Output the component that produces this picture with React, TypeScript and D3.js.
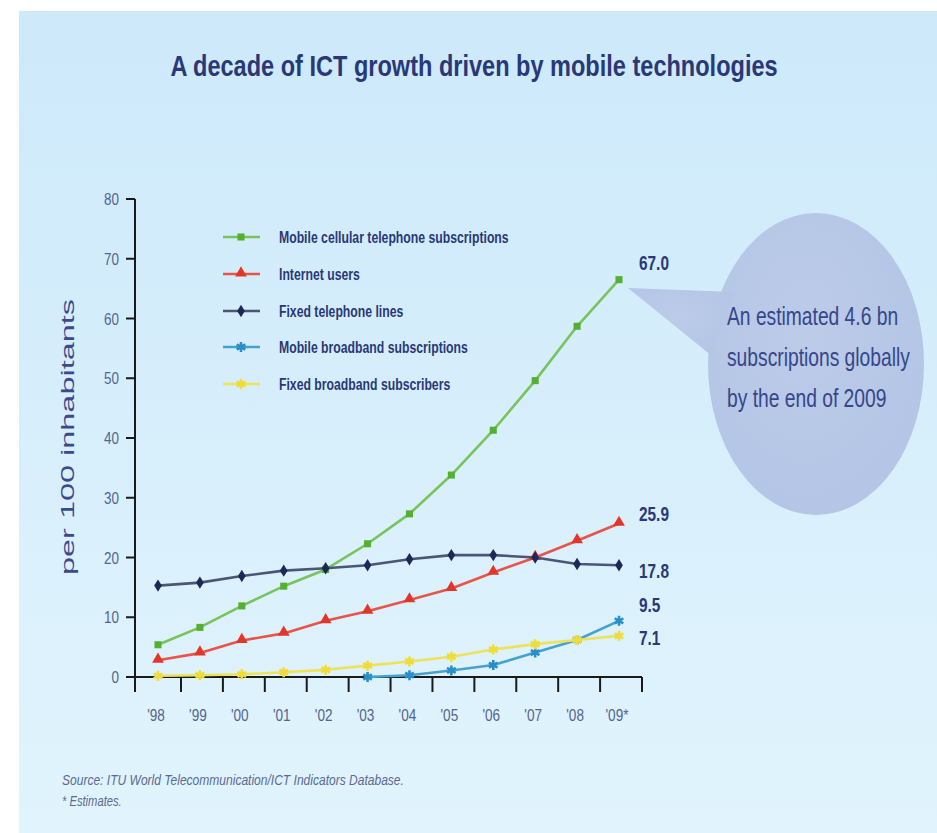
import React from "react";
import * as d3 from "d3";

const years = ["'98", "'99", "'00", "'01", "'02", "'03", "'04", "'05", "'06", "'07", "'08", "'09*"];
const mobileCellular = [5.4, 8.3, 11.9, 15.2, 18.0, 22.3, 27.3, 33.8, 41.3, 49.6, 58.7, 66.5];
const internetUsers = [2.8, 4.0, 6.1, 7.3, 9.4, 11.0, 12.9, 14.8, 17.5, 20.0, 22.8, 25.7];
const fixedTelephone = [15.3, 15.8, 16.9, 17.8, 18.2, 18.7, 19.7, 20.4, 20.4, 20.0, 18.9, 18.7];
const mobileBroadband = [null, null, null, null, null, 0.0, 0.3, 1.1, 2.0, 4.1, 6.2, 9.4];
const fixedBroadband = [0.2, 0.3, 0.45, 0.8, 1.2, 1.9, 2.6, 3.4, 4.6, 5.5, 6.2, 6.9];
const seriesNames = [
  "Mobile cellular telephone subscriptions",
  "Internet users",
  "Fixed telephone lines",
  "Mobile broadband subscriptions",
  "Fixed broadband subscribers",
];
const endLabels = ["67.0", "25.9", "17.8", "9.5", "7.1"];
const endLabelValues = [67.0, 25.9, 17.8, 9.5, 7.1];
const yTicks = [0, 10, 20, 30, 40, 50, 60, 70, 80];
const titleText = "A decade of ICT growth driven by mobile technologies";
const yTitle = "per 100 inhabitants";
const bubbleLines = ["An estimated 4.6 bn", "subscriptions globally", "by the end of 2009"];
const sourceLines = ["Source: ITU World Telecommunication/ICT Indicators Database.", "* Estimates."];

const seriesData = [mobileCellular, internetUsers, fixedTelephone, mobileBroadband, fixedBroadband];
const styles = [
  { line: "#78c45c", mark: "#55b032", shape: "square", labelDy: -14 },
  { line: "#e9544a", mark: "#e3362b", shape: "triangle", labelDy: -8 },
  { line: "#4b5574", mark: "#1d2858", shape: "diamond", labelDy: 0 },
  { line: "#45a2d0", mark: "#2a8fc8", shape: "asterisk", labelDy: -15 },
  { line: "#ece35a", mark: "#eedc3a", shape: "asterisk", labelDy: 3 },
];

const NAVY = "#2a3878";
const GREYBLUE = "#54648e";
const FONT = "'Liberation Sans', Arial, Helvetica, sans-serif";

function Marker({ shape, color, x, y }: any) {
  if (shape === "square") {
    const p = d3.symbol().type(d3.symbolSquare).size(50)();
    return <path d={p || ""} transform={`translate(${x},${y})`} fill={color} />;
  }
  if (shape === "triangle") {
    const p = d3.symbol().type(d3.symbolTriangle).size(60)();
    return <path d={p || ""} transform={`translate(${x},${y - 1})`} fill={color} />;
  }
  if (shape === "diamond") {
    const p = d3.symbol().type(d3.symbolSquare).size(30)();
    return <path d={p || ""} transform={`translate(${x},${y}) scale(1,1.6) rotate(45)`} fill={color} />;
  }
  const p = d3.symbol().type(d3.symbolAsterisk).size(70)();
  return (
    <g transform={`translate(${x},${y})`}>
      <path d={p || ""} fill="none" stroke={color} strokeWidth={2.6} />
      <circle r={2.5} fill={color} />
    </g>
  );
}

function CText({ x, y, sx = 1, anchor = "start", children, ...rest }: any) {
  return (
    <text transform={`translate(${x},${y}) scale(${sx},1)`} textAnchor={anchor} {...rest}>
      {children}
    </text>
  );
}

export default function App() {
  const W = 937;
  const H = 833;
  const x = d3.scalePoint<string>().domain(years).range([158, 619]);
  const y = d3.scaleLinear().domain([0, 80]).range([677, 199]);
  const line = d3
    .line<any>()
    .defined((d) => d.v != null)
    .x((d) => x(d.k) as number)
    .y((d) => y(d.v));

  const legendRows = [237, 274, 311, 347, 384];

  return (
    <svg width={W} height={H} style={{ position: "absolute", left: 0, top: 0 }} fontFamily={FONT}>
      <defs>
        <linearGradient id="bg" x1="0" y1="0" x2="0" y2="1">
          <stop offset="0" stopColor="#cde9fa" />
          <stop offset="1" stopColor="#e1f4fd" />
        </linearGradient>
        <radialGradient id="bub" cx="0.45" cy="0.4" r="0.7">
          <stop offset="0" stopColor="#bccbe8" />
          <stop offset="1" stopColor="#b3c4e5" />
        </radialGradient>
      </defs>
      <rect x={0} y={0} width={W} height={H} fill="#ffffff" />
      <rect x={19} y={11} width={W - 19} height={H - 11} fill="url(#bg)" />

      {/* Title */}
      <CText x={474} y={76} sx={0.785} anchor="middle" fontSize={30} fontWeight="bold" fill={NAVY}>
        {titleText}
      </CText>

      {/* Speech bubble */}
      <g fill="url(#bub)">
        <ellipse cx={816} cy={364} rx={108} ry={151} />
        <polygon points="628,288 735,292 712,356" />
      </g>
      {bubbleLines.map((t, i) => (
        <CText key={t} x={727} y={325 + i * 41} sx={0.77} fontSize={25} fill="#34478a">
          {t}
        </CText>
      ))}

      {/* Y axis title */}
      <text
        transform={`translate(74,437) rotate(-90)`}
        textAnchor="middle"
        fontSize={18}
        fill="#3a4a8c"
        textLength={276}
        lengthAdjust="spacingAndGlyphs"
      >
        {yTitle}
      </text>

      {/* Y axis */}
      <line x1={135} x2={135} y1={y(80)} y2={692} stroke="#1a1a1a" strokeWidth={2} />
      {yTicks.map((t) => (
        <g key={t}>
          <line x1={126} x2={135} y1={y(t)} y2={y(t)} stroke="#1a1a1a" strokeWidth={2} />
          <CText x={119} y={y(t) + 6} sx={0.84} anchor="end" fontSize={16} fill={GREYBLUE}>
            {t}
          </CText>
        </g>
      ))}

      {/* X axis */}
      <line x1={126} x2={642} y1={y(0)} y2={y(0)} stroke="#1a1a1a" strokeWidth={2} />
      {years.map((k) => (
        <g key={k}>
          <line
            x1={(x(k) as number) + 23}
            x2={(x(k) as number) + 23}
            y1={y(0)}
            y2={692}
            stroke="#1a1a1a"
            strokeWidth={2}
          />
          <CText x={(x(k) as number) - 2} y={721} sx={0.8} anchor="middle" fontSize={17} fill={GREYBLUE}>
            {k}
          </CText>
        </g>
      ))}

      {/* Series */}
      {seriesData.map((vals, si) => {
        const pts = vals.map((v, i) => ({ k: years[i], v }));
        return (
          <g key={si}>
            <path d={line(pts) || ""} fill="none" stroke={styles[si].line} strokeWidth={2.6} strokeLinejoin="round" />
            {pts
              .filter((p) => p.v != null)
              .map((p) => (
                <Marker key={p.k} shape={styles[si].shape} color={styles[si].mark} x={x(p.k)} y={y(p.v as number)} />
              ))}
          </g>
        );
      })}

      {/* End labels */}
      {endLabels.map((t, i) => (
        <CText
          key={t}
          x={639}
          y={y(endLabelValues[i]) + styles[i].labelDy + 7}
          sx={0.77}
          fontSize={20}
          fontWeight="bold"
          fill={NAVY}
        >
          {t}
        </CText>
      ))}

      {/* Legend */}
      {seriesNames.map((n, i) => (
        <g key={n}>
          <line x1={223} x2={260} y1={legendRows[i]} y2={legendRows[i]} stroke={styles[i].line} strokeWidth={2.6} />
          <Marker shape={styles[i].shape} color={styles[i].mark} x={241} y={legendRows[i]} />
          <CText x={279} y={legendRows[i] + 6} sx={0.72} fontSize={17} fontWeight="bold" fill={NAVY}>
            {n}
          </CText>
        </g>
      ))}

      {/* Source */}
      <CText x={62} y={785} sx={0.86} fontSize={14} fontStyle="italic" fill="#5a6a92">
        {sourceLines[0]}
      </CText>
      <CText x={62} y={806} sx={0.8} fontSize={14} fontStyle="italic" fill="#5a6a92">
        {sourceLines[1]}
      </CText>
    </svg>
  );
}
